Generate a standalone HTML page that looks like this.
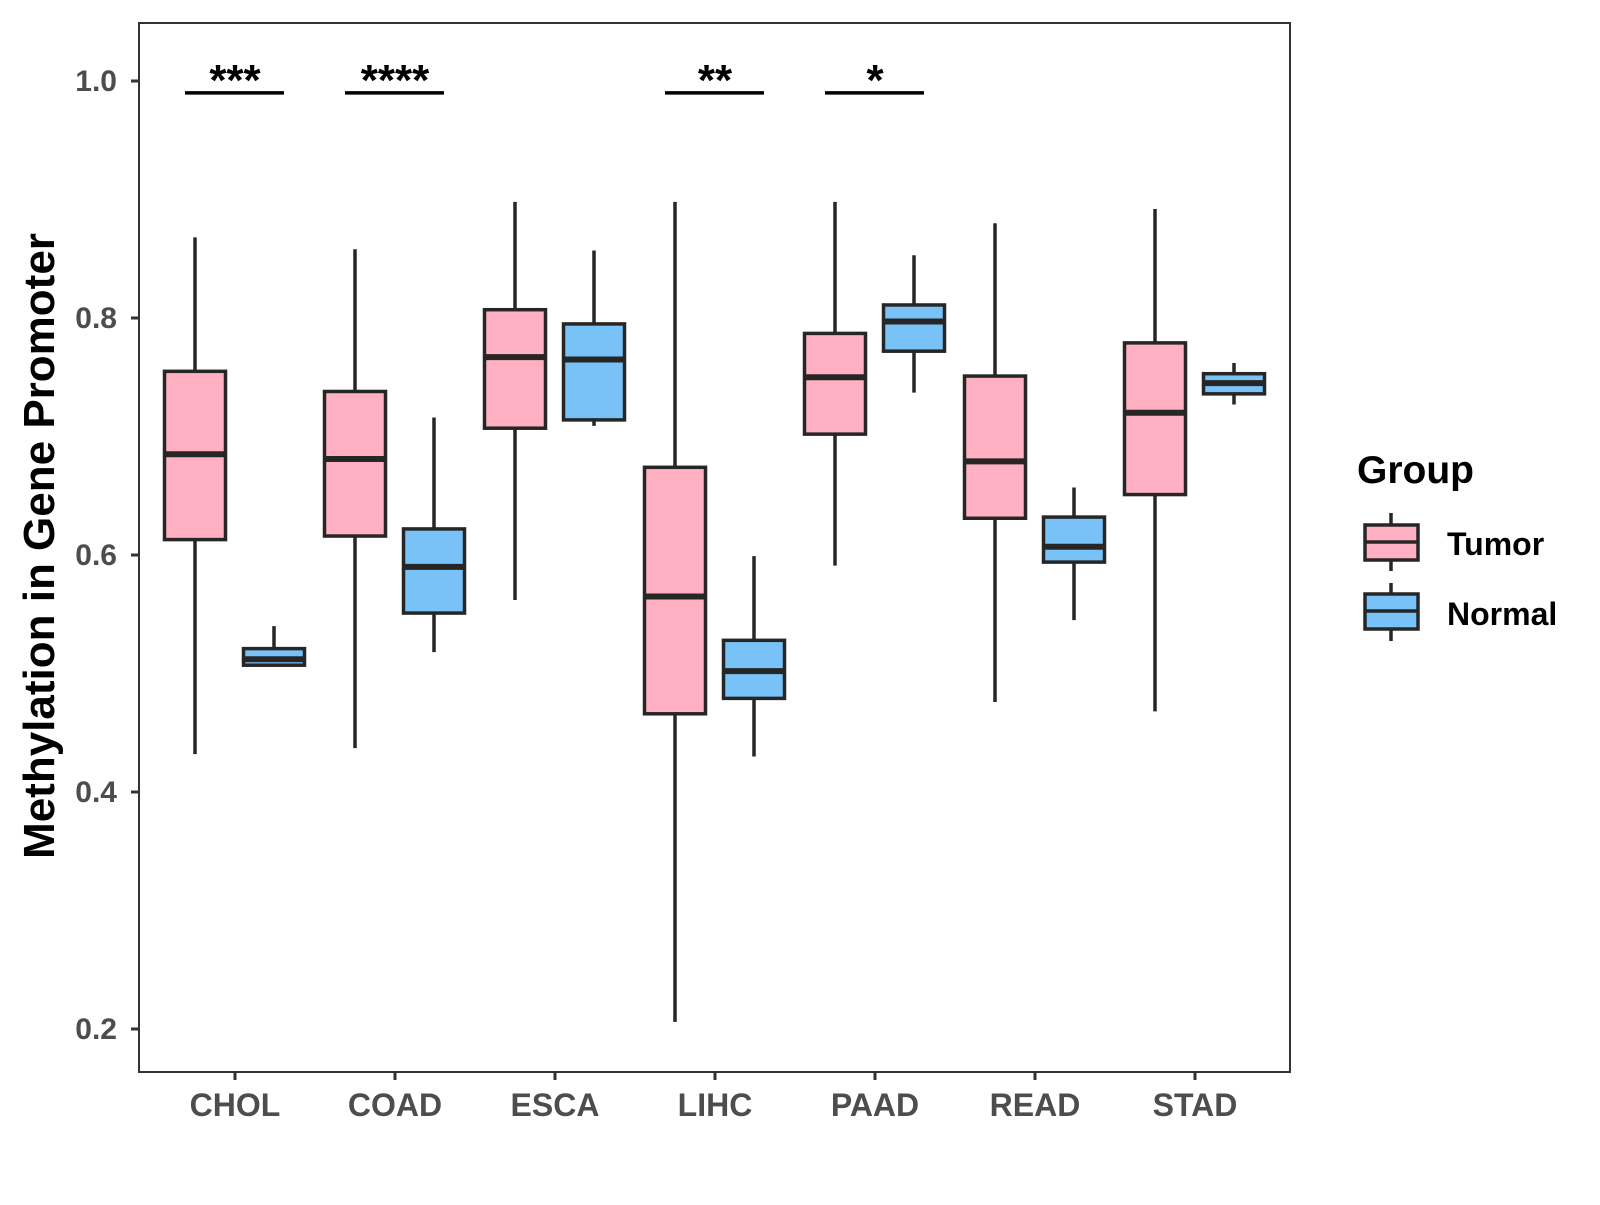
<!DOCTYPE html>
<html><head><meta charset="utf-8"><style>
html,body{margin:0;padding:0;background:#fff;}
svg text{font-family:"Liberation Sans",Arial,sans-serif;font-weight:bold;}
</style></head><body>
<svg id="chart" width="1600" height="1200" viewBox="0 0 1600 1200" xmlns="http://www.w3.org/2000/svg">
<rect x="0" y="0" width="1600" height="1200" fill="#fff"/>
<g id="marks"></g>
<rect x="139" y="23" width="1151" height="1049" fill="none" stroke="#333" stroke-width="2"/>
<text x="0" y="0" transform="translate(54,546) rotate(-90)" text-anchor="middle" font-size="44" fill="#000">Methylation in Gene Promoter</text>
<g>
<text x="1357" y="483" font-size="39" fill="#000">Group</text>
<g>
<line x1="1391" y1="513" x2="1391" y2="571" stroke="#262626" stroke-width="3.5"/>
<rect x="1365" y="525" width="53" height="35" fill="#FFB0C2" stroke="#262626" stroke-width="3.5"/>
<line x1="1365" y1="542" x2="1418" y2="542" stroke="#262626" stroke-width="3.5"/>
<text x="1447" y="555" font-size="32" fill="#000">Tumor</text>
</g>
<g>
<line x1="1391" y1="583" x2="1391" y2="641" stroke="#262626" stroke-width="3.5"/>
<rect x="1365" y="594" width="53" height="35" fill="#78C2F8" stroke="#262626" stroke-width="3.5"/>
<line x1="1365" y1="611" x2="1418" y2="611" stroke="#262626" stroke-width="3.5"/>
<text x="1447" y="625" font-size="32" fill="#000">Normal</text>
</g>
</g>
</svg>
<script>
const categories=["CHOL","COAD","ESCA","LIHC","PAAD","READ","STAD"];
// [whiskerLow, q1, median, q3, whiskerHigh]
const tumorStats=[[0.432,0.613,0.685,0.755,0.868],[0.437,0.616,0.681,0.738,0.858],[0.562,0.707,0.767,0.807,0.898],[0.206,0.466,0.565,0.674,0.898],[0.591,0.702,0.750,0.787,0.898],[0.476,0.631,0.679,0.751,0.880],[0.468,0.651,0.720,0.779,0.892]];
const normalStats=[[0.506,0.507,0.512,0.521,0.540],[0.518,0.551,0.590,0.622,0.716],[0.709,0.714,0.765,0.795,0.857],[0.430,0.479,0.502,0.528,0.599],[0.737,0.772,0.797,0.811,0.853],[0.545,0.594,0.607,0.632,0.657],[0.727,0.736,0.745,0.753,0.762]];
const yTicks=[0.2,0.4,0.6,0.8,1.0];
const yTickLabels=["0.2","0.4","0.6","0.8","1.0"];
const sigLabels=["***","****","","**","*","",""];
const sigLevel=0.99;

const NS="http://www.w3.org/2000/svg";
const g=document.getElementById('marks');
function y(v){return 81+(1-v)*1185;}
function x(i){return 235+i*160;}
function mk(tag,attrs,parent){const e=document.createElementNS(NS,tag);for(const k in attrs)e.setAttribute(k,attrs[k]);(parent||g).appendChild(e);return e;}
yTicks.forEach((t,i)=>{
  const l=mk('line',{x1:131,x2:139,y1:y(t),y2:y(t),stroke:'#333','stroke-width':3});
  
  
  const tx=mk('text',{x:117,y:y(t)+10,'text-anchor':'end','font-size':30,fill:'#4d4d4d'});
  tx.textContent=yTickLabels[i];
  
  
});
categories.forEach((c,i)=>{
  const l=mk('line',{x1:x(i),x2:x(i),y1:1072,y2:1080,stroke:'#333','stroke-width':3});
  
  
  const tx=mk('text',{x:x(i),y:1116,'text-anchor':'middle','font-size':32,fill:'#4d4d4d'});
  tx.textContent=c;
  
  
});
function box(s,cx,fill,name){
  const grp=mk('g',{});
  
  
  const w=61;
  mk('line',{x1:cx,x2:cx,y1:y(s[0]),y2:y(s[4]),stroke:'#262626','stroke-width':3.5},grp);
  mk('rect',{x:cx-w/2,y:y(s[3]),width:w,height:y(s[1])-y(s[3]),fill:fill,stroke:'#262626','stroke-width':3.5},grp);
  mk('line',{x1:cx-w/2,x2:cx+w/2,y1:y(s[2]),y2:y(s[2]),stroke:'#262626','stroke-width':6},grp);
}
categories.forEach((c,i)=>{
  box(tumorStats[i],x(i)-40,'#FFB0C2','box-tumor-'+c.toLowerCase());
  box(normalStats[i],x(i)+39,'#78C2F8','box-normal-'+c.toLowerCase());
  if(sigLabels[i]){
    const l=mk('line',{x1:x(i)-50,x2:x(i)+49,y1:y(sigLevel),y2:y(sigLevel),stroke:'#000','stroke-width':3.5});
    
    
    const t=mk('text',{x:x(i),y:y(sigLevel)+2,'text-anchor':'middle','font-size':44,fill:'#000'});
    t.textContent=sigLabels[i];
    
    
  }
});
</script>
</body></html>
